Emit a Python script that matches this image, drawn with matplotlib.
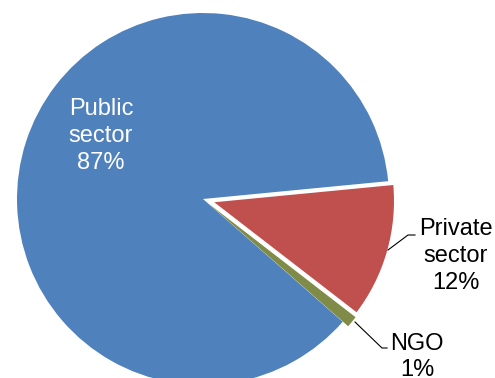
import matplotlib.pyplot as plt

# shares of funding by sector
sectores = ["Public\nsector", "NGO", "Private\nsector"]
porcentajes = [87, 1, 12]
colores = ["#4F81BD", "#7F8B46", "#C0504D"]
separacion = [0, 7, 7]

W, H = 495, 378

fig = plt.figure(figsize=(W / 100, H / 100), dpi=100)
ax = fig.add_axes([0, 0, 1, 1])

cuñas, _ = ax.pie(porcentajes, explode=separacion, colors=colores,
                  startangle=5.5, counterclock=True,
                  center=(203, H - 199), radius=186)
for c in cuñas:
    c.set_linewidth(0)
cuñas[2].set_edgecolor("white")
cuñas[2].set_linewidth(2.5)

ax.set_xlim(0, W)
ax.set_ylim(0, H)
ax.set_aspect("auto")
ax.axis("off")

fuente = dict(family="Liberation Sans", fontsize=17, ha="center", va="center",
              linespacing=1.28)

ax.text(101, H - 136, "%s\n%d%%" % (sectores[0], porcentajes[0]),
        color="white", **fuente)
ax.text(456, H - 256, "%s\n%d%%" % (sectores[2], porcentajes[2]),
        color="black", **fuente)
ax.text(417, H - 357, "%s\n%d%%" % (sectores[1], porcentajes[1]),
        color="black", **fuente)

# leader lines
ax.plot([388, 408, 415], [H - 250, H - 235, H - 235], color="black", lw=0.8)
ax.plot([355, 382, 387], [H - 322, H - 348, H - 348], color="black", lw=0.8)

fig.savefig("out.png", dpi=100)
